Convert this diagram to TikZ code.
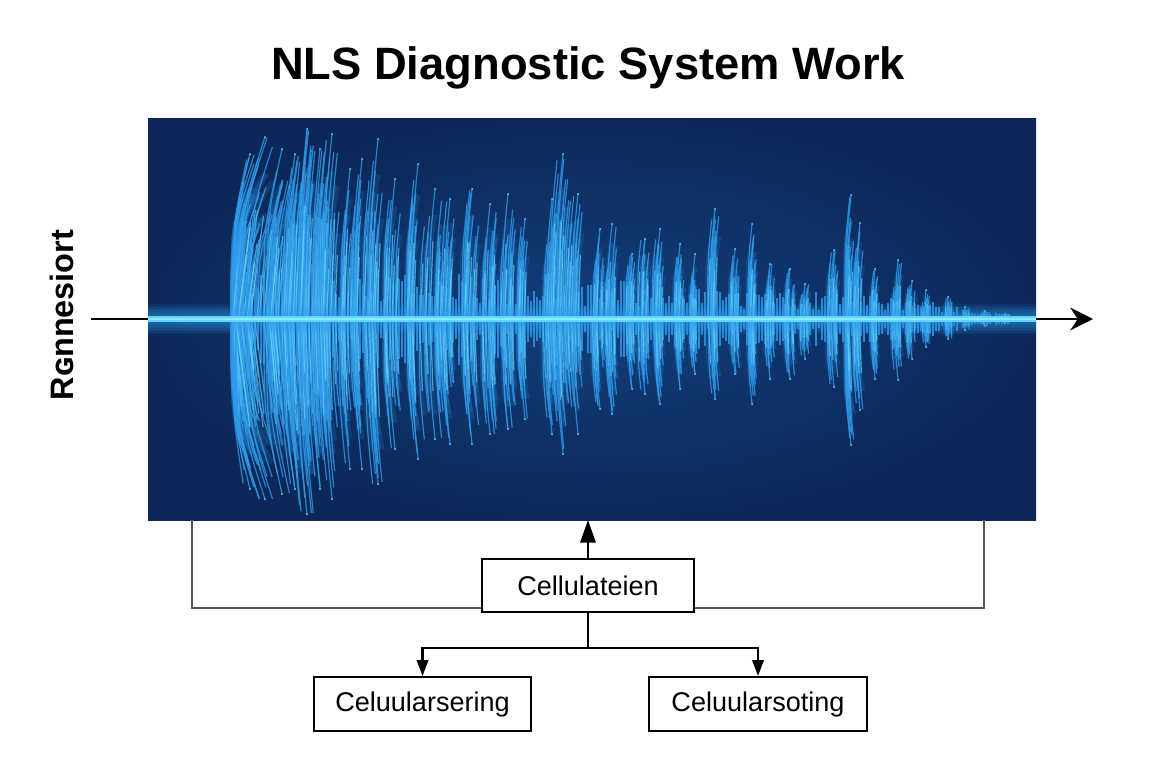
\documentclass[tikz,border=0pt]{standalone}
\usepackage{fontspec}
\usepackage{tikz}
\usetikzlibrary{arrows.meta}
\setmainfont{Liberation Sans}

\definecolor{panelin}{HTML}{123F7C}
\definecolor{panelout}{HTML}{0C2858}
\definecolor{strandblue}{HTML}{2F9BEA}
\definecolor{strandlight}{HTML}{62D4FF}
\definecolor{corewhite}{HTML}{8AEBFF}
\definecolor{linegrey}{HTML}{555555}

\tikzset{
  cellbox/.style={draw=black,line width=1.5pt,fill=white,font=\fontsize{20.3}{22}\selectfont,minimum height=39.5pt},
  link/.style={draw=black,line width=1.9pt},
  backlink/.style={draw=linegrey,line width=1.5pt},
  strand/.style={strandblue,line width=0.9pt,opacity=0.8},
  corestrand/.style={strandlight,line width=0.9pt,opacity=0.65},
  halo/.style={strandblue,line width=4pt,opacity=0.16},
}

\begin{document}
\begin{tikzpicture}[x=0.75pt,y=-0.75pt]
      \useasboundingbox (0,0) rectangle (1152,768);
      \fill[white] (0,0) rectangle (1152,768);

      \node at (588,67.5) (title) {\fontsize{34}{37}\selectfont\bfseries NLS Diagnostic System Work};
      \node [rotate=90] at (62,315) (side) {\fontsize{24.3}{27}\selectfont\bfseries Rɢnnesiort};

      \node [minimum width=666pt,minimum height=301.5pt,inner sep=0pt,outer sep=0pt,
             shade,shading=radial,inner color=panelin,outer color=panelout] at (592,319) (wave) {};

      \pgfmathsetseed{11}
      % low ripple under the peaks
      \foreach \px in {234,237,...,1030} {
        \pgfmathsetmacro{\amp}{(\px<900 ? 22+0.06*(900-\px) : 0.17*(1036-\px))*(.3+.7*rnd)}
        \draw[strand] (\px,319-\amp) -- (\px,319+\amp);
      }
      % peaks, grouped by position: x / height up / height down
      \foreach \cx/\hu/\hd in {
        240/120/125,250/165/170,265/182/180,282/170/175,295/165/170,307/190/195,320/170/170,332/185/180,
        350/150/150,362/160/150,378/180/165,395/140/130,418/155/140,435/130/120,450/120/125,
        472/130/125,490/115/115,508/125/110,525/100/100,552/120/115,563/165/135,578/125/115,
        600/90/90,612/95/95,632/65/70,645/80/75,660/90/85,680/75/70,695/65/55,715/110/80,
        735/70/55,752/95/85,770/55/60,790/50/60,805/35/40,834/69/68,851/124/126,860/96/91,
        875/50/60,898/59/61,912/38/40,926/29/28,948/22/20,965/12/11,985/8/7,1005/5/4} {
        \pgfmathsetmacro{\lean}{(\cx<265 ? .13 : max(.04,.13-.0025*(\cx-265)))}
        \pgfmathtruncatemacro{\nk}{(\cx<340 ? 13 : 8)}
        \foreach \k in {1,...,\nk} {
          \pgfmathsetmacro{\sx}{\cx+(\k>1)*(rnd-.5)*(\cx<600 ? 15 : 9)}
          \pgfmathsetmacro{\up}{\hu*(1-(\k>1)*.55*rnd)}
          \pgfmathsetmacro{\dn}{\hd*(1-(\k>1)*.55*rnd)}
          \pgfmathsetmacro{\bu}{max(233,\sx-\lean*\up)}
          \pgfmathsetmacro{\bd}{max(233,\sx-\lean*\dn)}
          \pgfmathsetmacro{\tu}{max(235,\sx)}
          \draw[halo] (\bu,319) .. controls (\bu,319-.6*\up) .. (\tu,319-.8*\up);
          \draw[halo] (\bd,319) .. controls (\bd,319+.6*\dn) .. (\tu,319+.8*\dn);
          \draw[strand] (\bu,319) .. controls (\bu,319-.6*\up) .. (\tu,319-\up);
          \draw[strand] (\bd,319) .. controls (\bd,319+.6*\dn) .. (\tu,319+\dn);
          \draw[corestrand] (\bu,319) -- (\bu+.6*\tu-.6*\bu,319-.6*\up);
          \draw[corestrand] (\bd,319) -- (\bd+.6*\tu-.6*\bd,319+.6*\dn);
        }
        \fill[strandlight] (\cx,319-\hu) circle (1);
        \fill[strandlight] (\cx,319+\hd) circle (1);
      }
      % glowing centre line
      \foreach \w in {30,27,...,6} {
        \draw[strandblue,line width=\w*0.75pt,opacity=0.09] (wave.west) -- (wave.east);
      }
      \draw[strandlight,line width=4pt] (wave.west) -- (wave.east);
      \draw[corewhite,line width=1.6pt] (wave.west) -- (wave.east);

      \node [cellbox,minimum width=159pt,below of=wave,xshift=-3pt,yshift=-171.4pt] (cell) {Cellulateien};
      \node [cellbox,minimum width=162.5pt,minimum height=40.5pt,below of=cell,xshift=-124.1pt,yshift=-60.5pt] (sering) {Celuularsering};
      \node [cellbox,minimum width=163.5pt,minimum height=40.5pt,below of=cell,xshift=127.5pt,yshift=-60.5pt] (soting) {Celuularsoting};

      \coordinate (in) at (91,319);
      \coordinate (out) at (1093,319);
      \coordinate (fork) at (588,648);
      \coordinate (backl) at (192,520);
      \coordinate (backr) at (984,520);
      \coordinate (backy) at (0,608);

      \draw[link] (in) -- (wave.west);
      \draw[link,-{Stealth[length=17pt,width=17pt]}] (wave.east) -- (out);
      \draw[link,-{Stealth[length=17pt,width=11.5pt,inset=0pt]}] (cell.north) -- (wave.south -| cell.north);
      \draw[backlink] (backl) |- (cell.west |- backy);
      \draw[backlink] (backr) |- (cell.east |- backy);
      \draw[link] (cell.south) -- (fork);
      \draw[link,-{Stealth[length=12pt,width=8.5pt,inset=0pt]}] (fork) -| (sering.north);
      \draw[link,-{Stealth[length=12pt,width=8.5pt,inset=0pt]}] (fork) -| (soting.north);
    \end{tikzpicture}
\end{document}
